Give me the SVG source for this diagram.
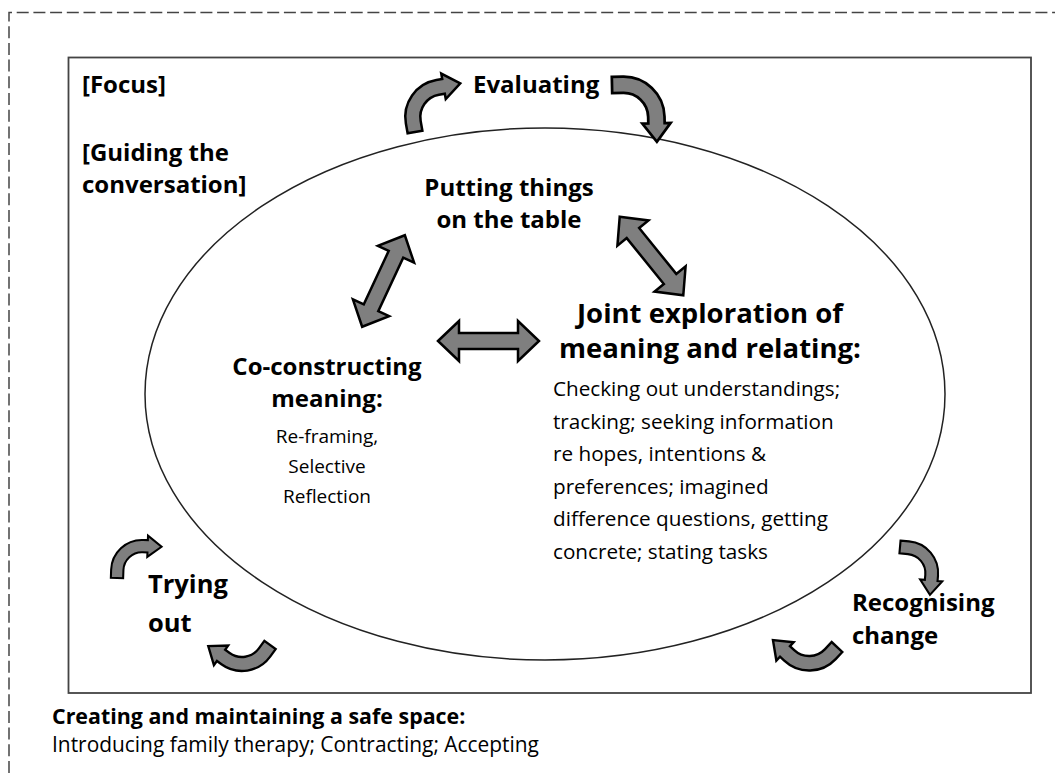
<svg xmlns="http://www.w3.org/2000/svg" width="1055" height="773" viewBox="0 0 1055 773">
<style>
.t{font-family:"Open Sans","Liberation Sans",sans-serif;fill:#000}
.b{font-weight:bold}
.s24{font-size:24px}
.s27{font-size:27.5px}
.s22{font-size:21.4px}
.r20{font-size:20.7px}
.r19{font-size:19px}
.r20b{font-size:20.9px}
.arr{fill:#7f7f7f;stroke:#000;stroke-width:2.5;stroke-linejoin:miter}
</style>
<defs>
<path id="ca" d="M-37.5,10 L-37.5,0 A37.5,37.5 0 0 1 0,-37.5 L6,-37.5 L6,-43 L23,-30 L6,-17 L6,-22.5 L0,-22.5 A22.5,22.5 0 0 0 -22.5,0 L-22.5,10 Z"/>
<path id="da" d="M-50.5,0 L-29.5,-20 L-29.5,-8 L29.5,-8 L29.5,-20 L50.5,0 L29.5,20 L29.5,8 L-29.5,8 L-29.5,20 Z"/>
</defs>
<rect width="1055" height="773" fill="#fff"/>
<g id="outer-frame">
<path d="M9,773 V12.5 H1055" fill="none" stroke="#444" stroke-width="1.5" stroke-dasharray="12 4.7"/>
</g>
<g id="focus-frame">
<rect x="68.5" y="57.5" width="962.5" height="635.5" fill="none" stroke="#444" stroke-width="1.8"/>
</g>
<g id="ellipse">
<ellipse cx="545" cy="394" rx="400" ry="266" fill="none" stroke="#222" stroke-width="1.5"/>
</g>
<g id="focus-label">
<text class="t b s24" x="82" y="93">[Focus]</text>
</g>
<g id="guiding-label">
<text class="t b s24" x="82" y="161">[Guiding the</text>
<text class="t b s24" x="82" y="193">conversation]</text>
</g>
<g id="evaluating">
<text class="t b s24" x="473" y="93">Evaluating</text>
</g>
<g id="putting-things">
<text class="t b s24" x="509" y="196" text-anchor="middle">Putting things</text>
<text class="t b s24" x="509" y="228" text-anchor="middle">on the table</text>
</g>
<g id="joint-exploration">
<text class="t b s27" x="710" y="323" text-anchor="middle">Joint exploration of</text>
<text class="t b s27" x="710" y="358" text-anchor="middle">meaning and relating:</text>
<text class="t r20" x="553" y="396">Checking out understandings;</text>
<text class="t r20" x="553" y="428.5">tracking; seeking information</text>
<text class="t r20" x="553" y="461">re hopes, intentions &amp;</text>
<text class="t r20" x="553" y="493.5">preferences; imagined</text>
<text class="t r20" x="553" y="526">difference questions, getting</text>
<text class="t r20" x="553" y="558.5">concrete; stating tasks</text>
</g>
<g id="co-constructing">
<text class="t b s24" x="327" y="375" text-anchor="middle">Co-constructing</text>
<text class="t b s24" x="327" y="407" text-anchor="middle">meaning:</text>
<text class="t r19" x="327" y="443" text-anchor="middle">Re-framing,</text>
<text class="t r19" x="327" y="473" text-anchor="middle">Selective</text>
<text class="t r19" x="327" y="503" text-anchor="middle">Reflection</text>
</g>
<g id="trying-out">
<text class="t b" style="font-size:25.5px" x="148" y="593">Trying</text>
<text class="t b" style="font-size:25.5px" x="148" y="632">out</text>
</g>
<g id="recognising-change">
<text class="t b s24" x="852" y="611">Recognising</text>
<text class="t b s24" x="852" y="644">change</text>
</g>
<g id="safe-space">
<text class="t b s22" x="52" y="724">Creating and maintaining a safe space:</text>
<text class="t r20b" x="52" y="752">Introducing family therapy; Contracting; Accepting</text>
</g>
<g id="connectors">
<use href="#ca" class="arr" transform="translate(415,132) rotate(-10) translate(30,-10)"/>
<use href="#ca" class="arr" transform="translate(612,85) rotate(88.7) scale(1.09) translate(30,-10)"/>
<use href="#ca" class="arr" transform="translate(900,547) rotate(95) scale(0.85) translate(30,-10)"/>
<use href="#ca" class="arr" transform="translate(837,647) rotate(223.2) scale(0.97) translate(30,-10)"/>
<use href="#ca" class="arr" transform="translate(270,645) rotate(216.1) scale(0.93) translate(30,-10)"/>
<use href="#ca" class="arr" transform="translate(117,578) rotate(2) scale(0.82) translate(30,-10)"/>
<use href="#da" class="arr" transform="translate(383.5,281) rotate(-65)"/>
<use href="#da" class="arr" transform="translate(488.5,341)"/>
<use href="#da" class="arr" transform="translate(651.5,256) rotate(51)"/>
</g>
</svg>
